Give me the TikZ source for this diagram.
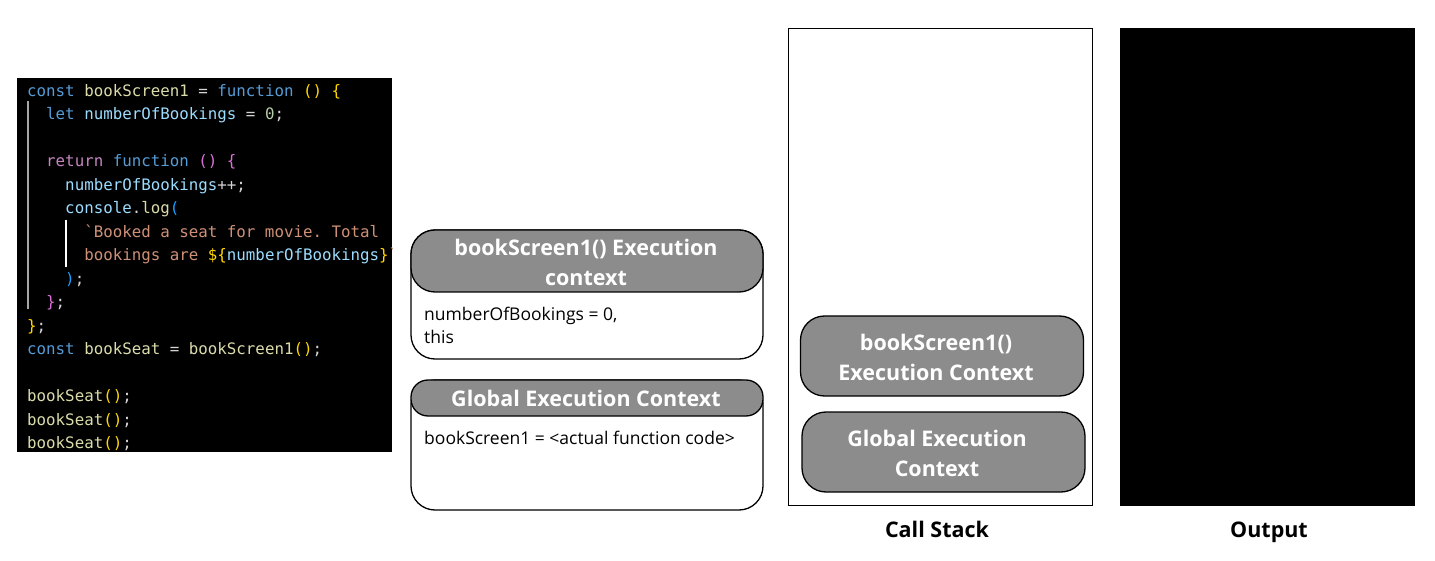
\documentclass[tikz,border=0pt]{standalone}
\usepackage{fontspec}
\setmainfont{Open Sans}
\setmonofont{DejaVu Sans Mono}
\definecolor{ckw}{HTML}{569CD6}
\definecolor{cfn}{HTML}{DCDCAA}
\definecolor{cvar}{HTML}{9CDCFE}
\definecolor{cnum}{HTML}{B5CEA8}
\definecolor{cret}{HTML}{C586C0}
\definecolor{cstr}{HTML}{CE9178}
\definecolor{cop}{HTML}{D4D4D4}
\definecolor{bra}{HTML}{FFD700}
\definecolor{brb}{HTML}{DA70D6}
\definecolor{brc}{HTML}{179FFF}
\definecolor{hdr}{HTML}{8C8C8C}
\newcommand{\K}[1]{\textcolor{ckw}{#1}}
\newcommand{\F}[1]{\textcolor{cfn}{#1}}
\newcommand{\V}[1]{\textcolor{cvar}{#1}}
\newcommand{\N}[1]{\textcolor{cnum}{#1}}
\newcommand{\R}[1]{\textcolor{cret}{#1}}
\newcommand{\St}[1]{\textcolor{cstr}{#1}}
\newcommand{\Op}[1]{\textcolor{cop}{#1}}
\newcommand{\Ba}[1]{\textcolor{bra}{#1}}
\newcommand{\Bb}[1]{\textcolor{brb}{#1}}
\newcommand{\Bc}[1]{\textcolor{brc}{#1}}
\tikzset{
  codeline/.style={anchor=base west, inner sep=0pt, font=\ttfamily\fontsize{15.8}{18}\selectfont, text=cop},
  ctxbox/.style={draw=black, line width=1.3pt, fill=white, rounded corners=24pt},
  ctxhead/.style={draw=black, line width=1.3pt, fill=hdr},
  stackbox/.style={draw=black, line width=1.3pt, fill=hdr, rounded corners=24pt, minimum width=283pt, minimum height=80pt, inner sep=0pt},
  hdrtext/.style={text=white, font=\bfseries\fontsize{21.5}{30}\selectfont, align=center, inner sep=0pt},
  bodytext/.style={anchor=base west, inner sep=0pt, font=\fontsize{17.5}{24}\selectfont},
  caption/.style={anchor=base, font=\bfseries\fontsize{21.5}{22}\selectfont, inner sep=0pt}
}
\begin{document}
\begin{tikzpicture}[x=1pt,y=-1pt]
\useasboundingbox (0,0) rectangle (1435,561);
% code panel
\fill[black] (17,78) rectangle (392,452);
\begin{scope}
\clip (17,78) rectangle (392,452);
\draw[gray!70, line width=1.2pt] (28,101) -- (28,309);
\draw[white, line width=1.2pt] (66,220) -- (66,267);
\node[codeline] (l0) at (27,96.5) {\K{const} \F{bookScreen1} = \K{function} \Ba{()} \Ba{\{}};
\node[codeline] (l1) at (27,120) {\ \ \K{let} \V{numberOfBookings} = \N{0};};
\node[codeline] (l3) at (27,166.9) {\ \ \R{return} \K{function} \Bb{()} \Bb{\{}};
\node[codeline] (l4) at (27,190.4) {\ \ \ \ \V{numberOfBookings}++;};
\node[codeline] (l5) at (27,213.9) {\ \ \ \ \V{console}.\F{log}\Bc{(}};
\node[codeline] (l6) at (27,237.3) {\ \ \ \ \ \ \St{`Booked a seat for movie. Total}};
\node[codeline] (l7) at (27,260.8) {\ \ \ \ \ \ \St{bookings are }\Ba{\$\{}\V{numberOfBookings}\Ba{\}}\St{`}};
\node[codeline] (l8) at (27,284.3) {\ \ \ \ \Bc{)};};
\node[codeline] (l9) at (27,307.7) {\ \ \Bb{\}};};
\node[codeline] (l10) at (27,331.2) {\Ba{\}};};
\node[codeline] (l11) at (27,354.7) {\K{const} \F{bookSeat} = \F{bookScreen1}\Ba{()};};
\node[codeline] (l13) at (27,401.6) {\F{bookSeat}\Ba{()};};
\node[codeline] (l14) at (27,425.1) {\F{bookSeat}\Ba{()};};
\node[codeline] (l15) at (27,448.5) {\F{bookSeat}\Ba{()};};
\end{scope}
% execution context 1
\draw[ctxbox] (411,230) rectangle (763,359);
\draw[ctxhead, rounded corners=24pt] (411,230) rectangle (763,292);
\node[hdrtext] (h1) at (586,262) {bookScreen1() Execution\\context};
\node[bodytext] (b1a) at (424,320) {numberOfBookings = 0,};
\node[bodytext] (b1b) at (424,344) {this};
% execution context 2
\draw[ctxbox] (411,380) rectangle (763,510);
\draw[ctxhead, rounded corners=17pt] (411,380) rectangle (763,416);
\node[hdrtext] (h2) at (586,398) {Global Execution Context};
\node[bodytext] (b2) at (424,444) {bookScreen1 = <actual function code>};
% call stack
\draw[black, line width=1pt] (788,29) rectangle (1092,505);
\node[stackbox] (cs1) at (942,356) {};
\node[hdrtext] (cs1t) at (936,357) {bookScreen1()\\Execution Context};
\node[stackbox] (cs2) at (943.5,452) {};
\node[hdrtext] (cs2t) at (937,453) {Global Execution\\Context};
\node[caption] (cap1) at (937,537) {Call Stack};
% output
\fill[black] (1120,28) rectangle (1415,506);
\node[caption] (cap2) at (1269,537) {Output};
\end{tikzpicture}
\end{document}
